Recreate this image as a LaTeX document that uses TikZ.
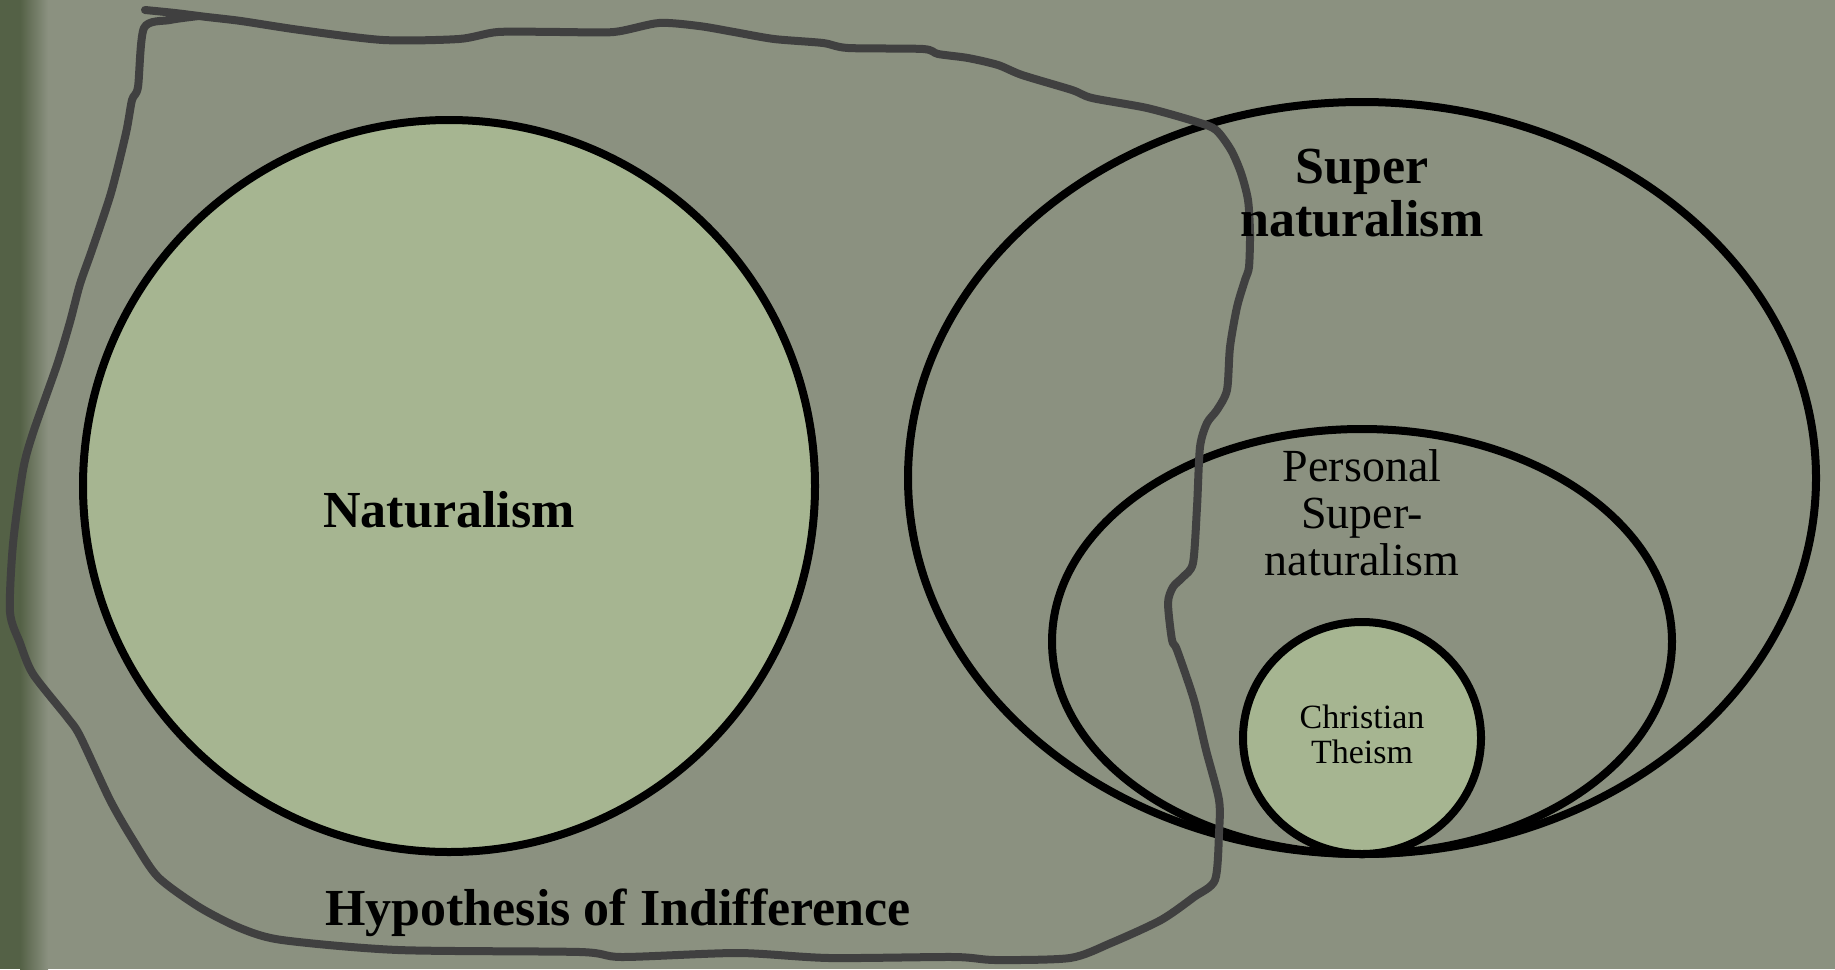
\documentclass[tikz,border=0pt]{standalone}
\usepackage{fontspec}
\setmainfont{Liberation Serif}
\usetikzlibrary{shapes.geometric}
\definecolor{bgcol}{RGB}{139,145,128}
\definecolor{bandcol}{RGB}{84,97,70}
\definecolor{greenfill}{RGB}{166,181,145}
\definecolor{handcol}{RGB}{64,64,64}
\tikzset{
  setshape/.style={ellipse, draw=black, line width=8pt, inner sep=0pt},
  greenset/.style={setshape, fill=greenfill},
  emptyset/.style={setshape},
  handline/.style={draw=handcol, line width=8pt, line cap=round, line join=round},
  bigbold/.style={anchor=base, align=center, text=black, font=\fontsize{52}{53}\selectfont\bfseries},
  midlabel/.style={anchor=base, align=center, text=black, font=\fontsize{46}{47}\selectfont},
  smalllabel/.style={anchor=base, align=center, text=black, font=\fontsize{34}{35}\selectfont}
}
\begin{document}
\begin{tikzpicture}[x=1pt, y=-1pt]
\useasboundingbox (0,0) rectangle (1835,969);
\fill[bgcol] (0,0) rectangle (1835,969);
\fill[bandcol] (0,0) rectangle (20,969);
\shade[left color=bandcol, right color=bgcol] (20,0) rectangle (48,969);
% sets
\node[greenset, minimum width=732pt, minimum height=732pt] (nat) at (449,486) {};
\node[emptyset, minimum width=908pt, minimum height=752pt] (super) at (1362,478) {};
\node[emptyset, minimum width=620pt, minimum height=425pt] (personal) at (1362,641.5) {};
\node[greenset, minimum width=238pt, minimum height=232pt] (christ) at (1362,738) {};
% hand-drawn boundary
\draw[handline] plot[smooth, tension=0.45] coordinates {
(145,10) (175,13) (207,17) (241,21) (300,30) (383,40) (459,39) (498,32) (560,32) (614,32)
(659,23) (699,26) (734,32) (774,39) (823,43) (848,48) (923,49) (938,54) (968,58) (998,65)
(1022,75) (1072,90) (1092,98) (1147,108) (1197,122) (1216,130) (1231,150) (1241,173)
(1248,200) (1250,233) (1249,267) (1245,280) (1237,307) (1230,347) (1227,390) (1217,410)
(1207,423) (1200,447) (1197,507) (1193,563) (1183,577) (1173,587) (1168,603) (1172,640)
(1177,650) (1194,700) (1206,750) (1219,800) (1219,833) (1215,880) (1194,897) (1161,920)
(1111,943) (1070,958) (995,960) (954,957) (829,958) (738,953) (622,957) (580,952)
(398,950) (282,940) (240,928) (199,907) (158,877) (133,840) (110,800) (80,736) (67,717)
(33,674) (20,643) (10,612) (13,544) (23,470) (33,433) (57,365) (70,322) (80,284) (92,250)
(111,193) (126,133) (132,100) (138,87) (144,28) (170,20) (199,16)};
% labels
\node[bigbold] (natlabel) at (449,527) {Naturalism};
\node[bigbold] (superlabel) at (1362,236) {Super\\naturalism};
\node[midlabel] (personallabel) at (1362,575) {Personal\\Super-\\naturalism};
\node[smalllabel] (christlabel) at (1362,763) {Christian\\Theism};
\node[bigbold] (hyplabel) at (618,925) {Hypothesis of Indifference};
\end{tikzpicture}
\end{document}
